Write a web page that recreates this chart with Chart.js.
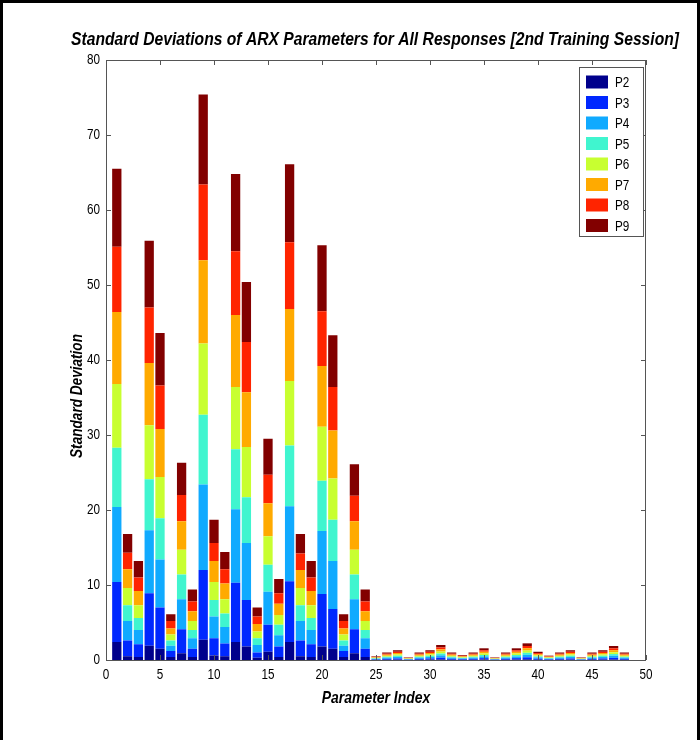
<!DOCTYPE html>
<html>
<head>
<meta charset="utf-8">
<script src="https://cdn.jsdelivr.net/npm/chart.js@4"></script>
<style>
  html, body { margin:0; padding:0; background:#fff; }
  #wrap { position:relative; width:700px; height:740px; }
  canvas { display:block; }
</style>
</head>
<body>
<div id="wrap"><canvas id="grafico" width="700" height="740"></canvas></div>
<script>
// ===== Dados =====
const paramIndex = [1,2,3,4,5,6,7,8,9,10,11,12,13,14,15,16,17,18,19,20,21,22,23,24,
  25,26,27,28,29,30,31,32,33,34,35,36,37,38,39,40,41,42,43,44,45,46,47,48];
const seriesNames = ['P2','P3','P4','P5','P6','P7','P8','P9'];
const seriesColors = ['#00008c','#0028ff','#10aaff','#40f5cf','#c8ff30','#ffaa00','#ff2400','#820000'];
const xTicks = [0,5,10,15,20,25,30,35,40,45,50];
const yTicks = [0,10,20,30,40,50,60,70,80];

const p2 = [2.4,0.5,0.4,1.9,1.5,0.4,0.9,0.4,2.7,0.6,0.5,2.4,1.8,0.3,1.1,0.4,2.4,0.5,0.4,1.8,1.5,0.4,0.9,0.4,
  0.02,0.04,0.05,0.01,0.04,0.05,0.08,0.04,0.03,0.04,0.06,0.01,0.04,0.06,0.09,0.04,0.02,0.04,0.05,0.01,0.04,0.05,0.07,0.04];
const p3 = [8.0,2.1,1.7,7.0,5.5,0.8,3.2,1.1,9.3,2.3,1.7,7.9,6.2,0.7,3.6,1.4,8.1,2.1,1.7,7.0,5.3,0.8,3.2,1.1,
  0.06,0.12,0.16,0.04,0.12,0.16,0.24,0.12,0.08,0.12,0.19,0.04,0.12,0.19,0.27,0.13,0.07,0.12,0.16,0.04,0.12,0.16,0.22,0.12];
const p4 = [10.0,2.6,1.9,8.4,6.4,0.7,4.0,1.4,11.4,2.9,2.2,9.8,7.6,1.0,4.4,1.5,10.0,2.6,1.9,8.4,6.4,0.7,4.0,1.4,
  0.08,0.15,0.2,0.05,0.15,0.2,0.3,0.15,0.1,0.15,0.23,0.05,0.15,0.23,0.33,0.17,0.09,0.15,0.2,0.05,0.15,0.2,0.28,0.15];
const p5 = [7.9,2.1,1.6,6.8,5.5,0.7,3.3,1.1,9.3,2.2,1.8,8.0,6.1,0.9,3.6,1.4,8.1,2.1,1.6,6.7,5.5,0.7,3.3,1.1,
  0.06,0.12,0.16,0.04,0.12,0.16,0.24,0.12,0.08,0.12,0.19,0.04,0.12,0.19,0.27,0.13,0.07,0.12,0.16,0.04,0.12,0.16,0.22,0.12];
const p6 = [8.5,2.3,1.7,7.2,5.5,0.8,3.3,1.2,9.5,2.4,1.9,8.3,6.7,0.9,3.8,1.3,8.6,2.3,1.7,7.2,5.5,0.8,3.3,1.2,
  0.07,0.13,0.17,0.05,0.13,0.17,0.26,0.13,0.09,0.13,0.2,0.05,0.13,0.2,0.29,0.14,0.08,0.13,0.17,0.05,0.13,0.17,0.24,0.13];
const p7 = [9.6,2.5,1.9,8.3,6.4,0.8,3.8,1.3,11.1,2.8,2.1,9.6,7.3,1.0,4.4,1.5,9.6,2.4,1.9,8.1,6.4,0.8,3.8,1.3,
  0.07,0.15,0.19,0.05,0.15,0.19,0.3,0.15,0.1,0.15,0.23,0.05,0.15,0.23,0.33,0.17,0.09,0.15,0.19,0.05,0.15,0.19,0.28,0.15];
const p8 = [8.7,2.2,1.8,7.4,5.8,1.0,3.5,1.3,10.1,2.4,1.9,8.5,6.7,1.0,3.8,1.4,8.9,2.2,1.8,7.3,5.8,1.0,3.4,1.3,
  0.07,0.13,0.17,0.05,0.13,0.17,0.26,0.13,0.09,0.13,0.2,0.05,0.13,0.2,0.29,0.14,0.07,0.13,0.17,0.05,0.13,0.17,0.25,0.13];
const p9 = [10.4,2.5,2.2,8.9,7.0,0.9,4.3,1.6,12.0,3.1,2.3,10.3,8.0,1.2,4.8,1.9,10.4,2.6,2.2,8.8,6.9,0.9,4.2,1.6,
  0.07,0.16,0.2,0.06,0.16,0.2,0.32,0.16,0.1,0.16,0.26,0.06,0.16,0.26,0.35,0.18,0.09,0.16,0.2,0.06,0.16,0.2,0.31,0.16];
const seriesValues = [p2,p3,p4,p5,p6,p7,p8,p9];

const fonte = "'Liberation Sans', Arial, sans-serif";

// texto "estreito": Liberation Sans comprimida na horizontal (imita Arial Narrow)
function textoEstreito(ctx, txt, x, y, font, escala, align){
  ctx.save();
  ctx.font = font;
  ctx.textBaseline = 'middle';
  ctx.textAlign = 'left';
  const w = ctx.measureText(txt).width * escala;
  let x0 = x;
  if (align === 'center') x0 = x - w/2;
  else if (align === 'right') x0 = x - w;
  ctx.translate(x0, y);
  ctx.scale(escala, 1);
  ctx.fillText(txt, 0, 0);
  ctx.restore();
}

// ===== Plugin de desenho (moldura, ticks, textos, legenda) =====
const molduraPlugin = {
  id:'moldura',
  afterDraw(chart){
    const {ctx, chartArea:a, scales:{x, y}} = chart;
    ctx.save();
    // borda externa da figura
    ctx.fillStyle = '#000';
    ctx.fillRect(0,0,700,3);
    ctx.fillRect(0,0,3,740);
    ctx.fillRect(697,0,3,740);
    // caixa dos eixos
    ctx.strokeStyle = '#555';
    ctx.lineWidth = 1;
    ctx.strokeRect(a.left+0.5, a.top+0.5, a.right-a.left-1, a.bottom-a.top);
    // ticks para dentro
    ctx.beginPath();
    xTicks.forEach(v=>{
      const px = Math.round(x.getPixelForValue(v))+0.5;
      ctx.moveTo(px, a.bottom); ctx.lineTo(px, a.bottom-5);
      ctx.moveTo(px, a.top); ctx.lineTo(px, a.top+5);
    });
    yTicks.forEach(v=>{
      const py = Math.round(y.getPixelForValue(v))+0.5;
      ctx.moveTo(a.left, py); ctx.lineTo(a.left+5, py);
      ctx.moveTo(a.right, py); ctx.lineTo(a.right-5, py);
    });
    ctx.stroke();

    // rotulos dos ticks
    ctx.fillStyle = '#000';
    xTicks.forEach(v=>{
      textoEstreito(ctx, String(v), x.getPixelForValue(v), a.bottom+15, '15px '+fonte, 0.78, 'center');
    });
    yTicks.forEach(v=>{
      textoEstreito(ctx, String(v), a.left-6, y.getPixelForValue(v), '15px '+fonte, 0.78, 'right');
    });

    // titulo e rotulos dos eixos
    textoEstreito(ctx, 'Standard Deviations of ARX Parameters for All Responses [2nd Training Session]',
      375, 40, 'italic bold 18px '+fonte, 0.87, 'center');
    textoEstreito(ctx, 'Parameter Index', 376, 698, 'italic bold 17px '+fonte, 0.82, 'center');
    ctx.save();
    ctx.translate(77, 396);
    ctx.rotate(-Math.PI/2);
    textoEstreito(ctx, 'Standard Deviation', 0, 0, 'italic bold 17px '+fonte, 0.80, 'center');
    ctx.restore();

    // legenda
    const lx = 579, ly = 67, lw = 64, lh = 169;
    ctx.fillStyle = '#fff';
    ctx.fillRect(lx, ly, lw, lh);
    ctx.strokeStyle = '#555';
    ctx.strokeRect(lx+0.5, ly+0.5, lw, lh);
    chart.data.datasets.forEach((ds,i)=>{
      const cy = 82 + i*20.5;
      ctx.fillStyle = ds.backgroundColor;
      ctx.fillRect(586, cy-6.5, 22, 13);
      ctx.fillStyle = '#000';
      textoEstreito(ctx, ds.label, 615, cy+1, '15px '+fonte, 0.78, 'left');
    });
    ctx.restore();
  }
};

const datasets = seriesNames.map((nome,i)=>({
  label:nome,
  data: paramIndex.map((p,j)=>({x:p, y:seriesValues[i][j]})),
  backgroundColor: seriesColors[i],
  borderWidth:0,
  barPercentage:0.86,
  categoryPercentage:1
}));

new Chart(document.getElementById('grafico').getContext('2d'), {
  type:'bar',
  data:{ datasets },
  options:{
    responsive:false,
    devicePixelRatio:1,
    animation:false,
    layout:{ padding:{ left:60, right:54, top:60, bottom:30 } },
    plugins:{ legend:{ display:false }, title:{ display:false }, tooltip:{ enabled:false } },
    scales:{
      x:{
        type:'linear', stacked:true, offset:false,
        min:0, max:50,
        grid:{ display:false },
        border:{ display:false },
        afterFit: s => { s.height = 740-660-30; },
        afterBuildTicks: s => { s.ticks = xTicks.map(v=>({value:v})); },
        ticks:{ display:false }
      },
      y:{
        stacked:true,
        min:0, max:80,
        grid:{ display:false },
        border:{ display:false },
        afterFit: s => { s.width = 106-60; },
        afterBuildTicks: s => { s.ticks = yTicks.map(v=>({value:v})); },
        ticks:{ display:false }
      }
    }
  },
  plugins:[molduraPlugin]
});
</script>
</body>
</html>
